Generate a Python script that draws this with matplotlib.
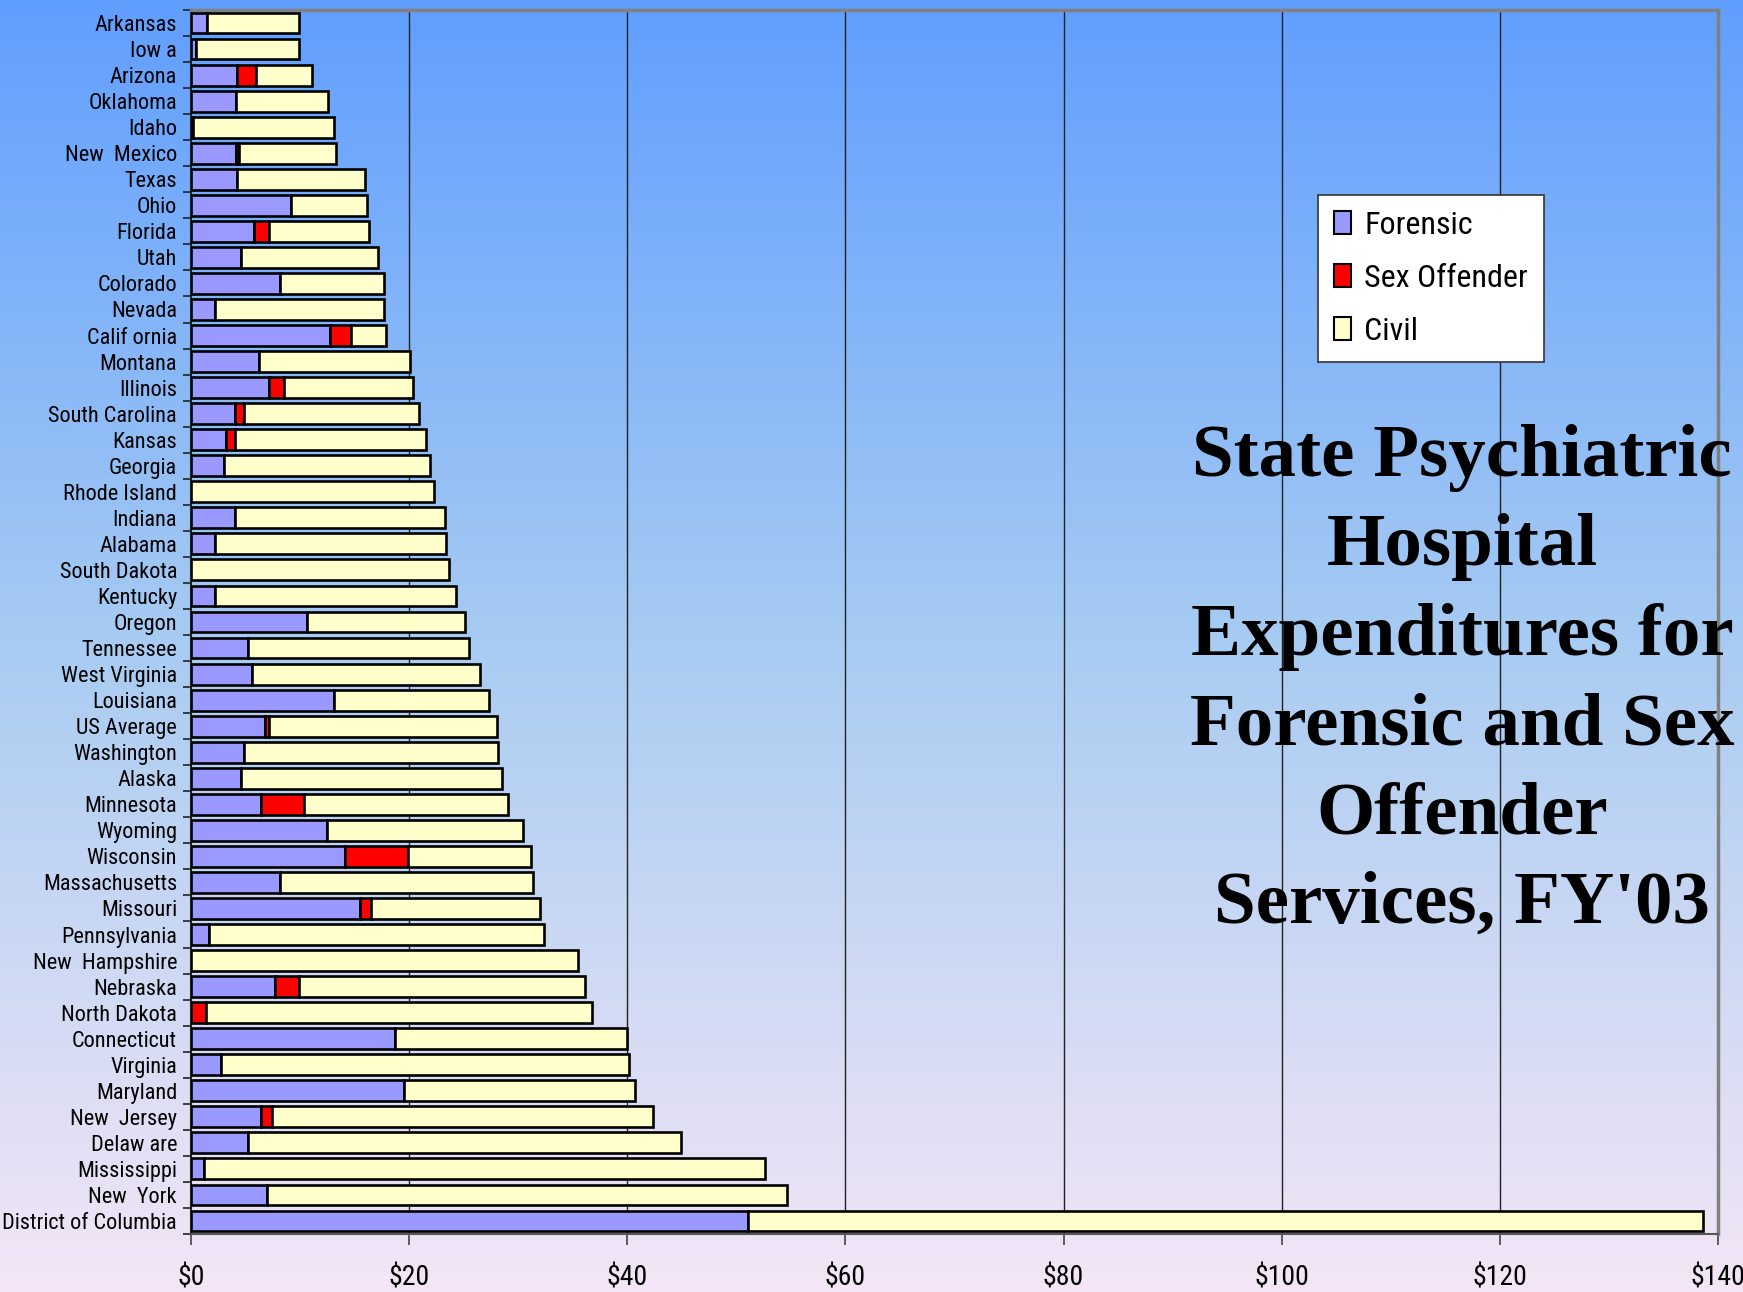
import numpy as np
import matplotlib.pyplot as plt
from matplotlib.patches import Patch
from matplotlib import font_manager

# estados, de arriba a abajo
states = ["Arkansas", "Iow a", "Arizona", "Oklahoma", "Idaho", "New  Mexico", "Texas",
          "Ohio", "Florida", "Utah", "Colorado", "Nevada", "Calif ornia", "Montana",
          "Illinois", "South Carolina", "Kansas", "Georgia", "Rhode Island", "Indiana",
          "Alabama", "South Dakota", "Kentucky", "Oregon", "Tennessee", "West Virginia",
          "Louisiana", "US Average", "Washington", "Alaska", "Minnesota", "Wyoming",
          "Wisconsin", "Massachusetts", "Missouri", "Pennsylvania", "New  Hampshire",
          "Nebraska", "North Dakota", "Connecticut", "Virginia", "Maryland", "New  Jersey",
          "Delaw are", "Mississippi", "New  York", "District of Columbia"]

forensic = [1.5, 0.5, 4.25, 4.1, 0.2, 4.1, 4.25, 9.19, 5.75, 4.56, 8.18, 2.21, 12.7, 6.28,
            7.12, 4.07, 3.23, 3.05, 0.0, 4.07, 2.21, 0.0, 2.21, 10.67, 5.26, 5.58,
            13.09, 6.77, 4.88, 4.56, 6.46, 12.44, 14.13, 8.17, 15.48, 1.68, 0.0,
            7.68, 0.0, 18.73, 2.71, 19.55, 6.45, 5.26, 1.19, 6.98, 51.06]

sex_offender = [0, 0, 1.68, 0, 0, 0.32, 0, 0, 1.4, 0, 0, 0, 1.93, 0,
                1.37, 0.81, 0.84, 0, 0, 0, 0, 0, 0, 0, 0, 0,
                0, 0.35, 0, 0, 3.93, 0, 5.79, 0, 1.03, 0, 0,
                2.18, 1.36, 0, 0, 0, 1.02, 0, 0, 0, 0]

civil = [8.36, 9.36, 5.12, 8.46, 12.89, 8.84, 11.71, 6.95, 9.17, 12.6, 9.5, 15.47, 3.23, 13.79,
         11.9, 16.0, 17.51, 18.84, 22.25, 19.19, 21.19, 23.65, 22.07, 14.45, 20.21, 20.91,
         14.24, 20.92, 23.3, 23.97, 18.68, 18.03, 11.25, 23.16, 15.52, 30.68, 35.44,
         26.24, 35.44, 21.27, 37.49, 21.15, 34.91, 39.71, 51.41, 47.62, 87.61]

xticks = [0, 20, 40, 60, 80, 100, 120, 140]
xlabels = ["$0", "$20", "$40", "$60", "$80", "$100", "$120", "$140"]

title_lines = ["State Psychiatric", "Hospital", "Expenditures for",
               "Forensic and Sex", "Offender", "Services, FY'03"]

# buscar una fuente estrecha tipo Arial Narrow
names = set(f.name for f in font_manager.fontManager.ttflist)
narrow_name = None
for cand in ['Liberation Sans Narrow', 'Arial Narrow', 'DejaVu Sans Condensed',
             'Roboto Condensed', 'Open Sans Condensed', 'Noto Sans Condensed']:
    if cand in names:
        narrow_name = cand
        break
if narrow_name:
    lab_font = [narrow_name, 'DejaVu Sans']
    lab_size = 16
    tick_size = 20
    leg_size = 23
else:
    lab_font = ['Liberation Sans', 'DejaVu Sans']
    lab_size = 15
    tick_size = 17
    leg_size = 20.5
serif = ['Liberation Serif', 'DejaVu Serif']

W, H = 1743, 1292
fig = plt.figure(figsize=(W / 100, H / 100), dpi=100)

# fondo degradado azul -> lila
bg = fig.add_axes([0, 0, 1, 1], zorder=-10)
top = np.array([96, 158, 255]) / 255
mid = np.array([168, 204, 242]) / 255
bot = np.array([244, 230, 246]) / 255
cols = np.zeros((400, 1, 3))
for i, v in enumerate(np.linspace(0, 1, 400)):
    if v < 0.5:
        cols[i, 0] = top + (mid - top) * (v / 0.5)
    else:
        cols[i, 0] = mid + (bot - mid) * ((v - 0.5) / 0.5)
bg.imshow(cols, aspect='auto', extent=[0, 1, 0, 1])
bg.axis('off')

left, right = 191 / W, 1718 / W
bottom, topy = 1 - 1234 / H, 1 - 10 / H
ax = fig.add_axes([left, bottom, right - left, topy - bottom])
ax.patch.set_alpha(0)

y = np.arange(len(states))
f = np.array(forensic)
s = np.array(sex_offender)
c = np.array(civil)
kw = dict(height=0.8, edgecolor='black', linewidth=1.9, zorder=3)
ax.barh(y, f, color='#9999FF', **kw)
ax.barh(y, s, left=f, color='#FF0000', **kw)
ax.barh(y, c, left=f + s, color='#FFFFCC', **kw)

ax.set_xlim(0, 140)
ax.set_ylim(len(states) - 0.5, -0.5)
ax.set_xticks(xticks)
ax.set_xticklabels(xlabels, fontsize=tick_size, family=lab_font)
ax.set_yticks(y)
ax.set_yticklabels(states, fontsize=lab_size, family=lab_font)
ax.tick_params(axis='y', length=0, pad=10)
ax.set_yticks(np.arange(len(states) + 1) - 0.5, minor=True)
ax.tick_params(axis='y', which='minor', length=6, width=1.2, color='#222222')
ax.tick_params(axis='x', length=8, width=1.2, color='#444444', pad=14)

for xv in xticks[1:-1]:
    ax.axvline(xv, color='#222222', linewidth=1.0, zorder=1)

ax.spines['left'].set_color('#222222')
ax.spines['left'].set_linewidth(1.5)
ax.spines['bottom'].set_color('#555555')
ax.spines['bottom'].set_linewidth(1.5)
for sp in ('top', 'right'):
    ax.spines[sp].set_color('#808080')
    ax.spines[sp].set_linewidth(2.5)

handles = [Patch(facecolor='#9999FF', edgecolor='black', linewidth=1.5, label='Forensic'),
           Patch(facecolor='#FF0000', edgecolor='black', linewidth=1.5, label='Sex Offender'),
           Patch(facecolor='#FFFFCC', edgecolor='black', linewidth=1.5, label='Civil')]
leg = ax.legend(handles=handles, loc='upper left', bbox_to_anchor=(0.738, 0.849),
                borderaxespad=0, prop={'family': lab_font, 'size': leg_size}, fancybox=False,
                framealpha=1, facecolor='white', edgecolor='#333333', handlelength=0.55,
                handleheight=0.7, handletextpad=0.4, labelspacing=0.75, borderpad=0.5)
leg.get_frame().set_linewidth(1.2)

# título en seis líneas
for i, line in enumerate(title_lines):
    yb = 476 + i * 89.4
    fig.text(1462 / W, 1 - yb / H, line, ha='center', va='baseline',
             fontsize=54, fontweight='bold', family=serif)

fig.savefig('out.png', dpi=100)
